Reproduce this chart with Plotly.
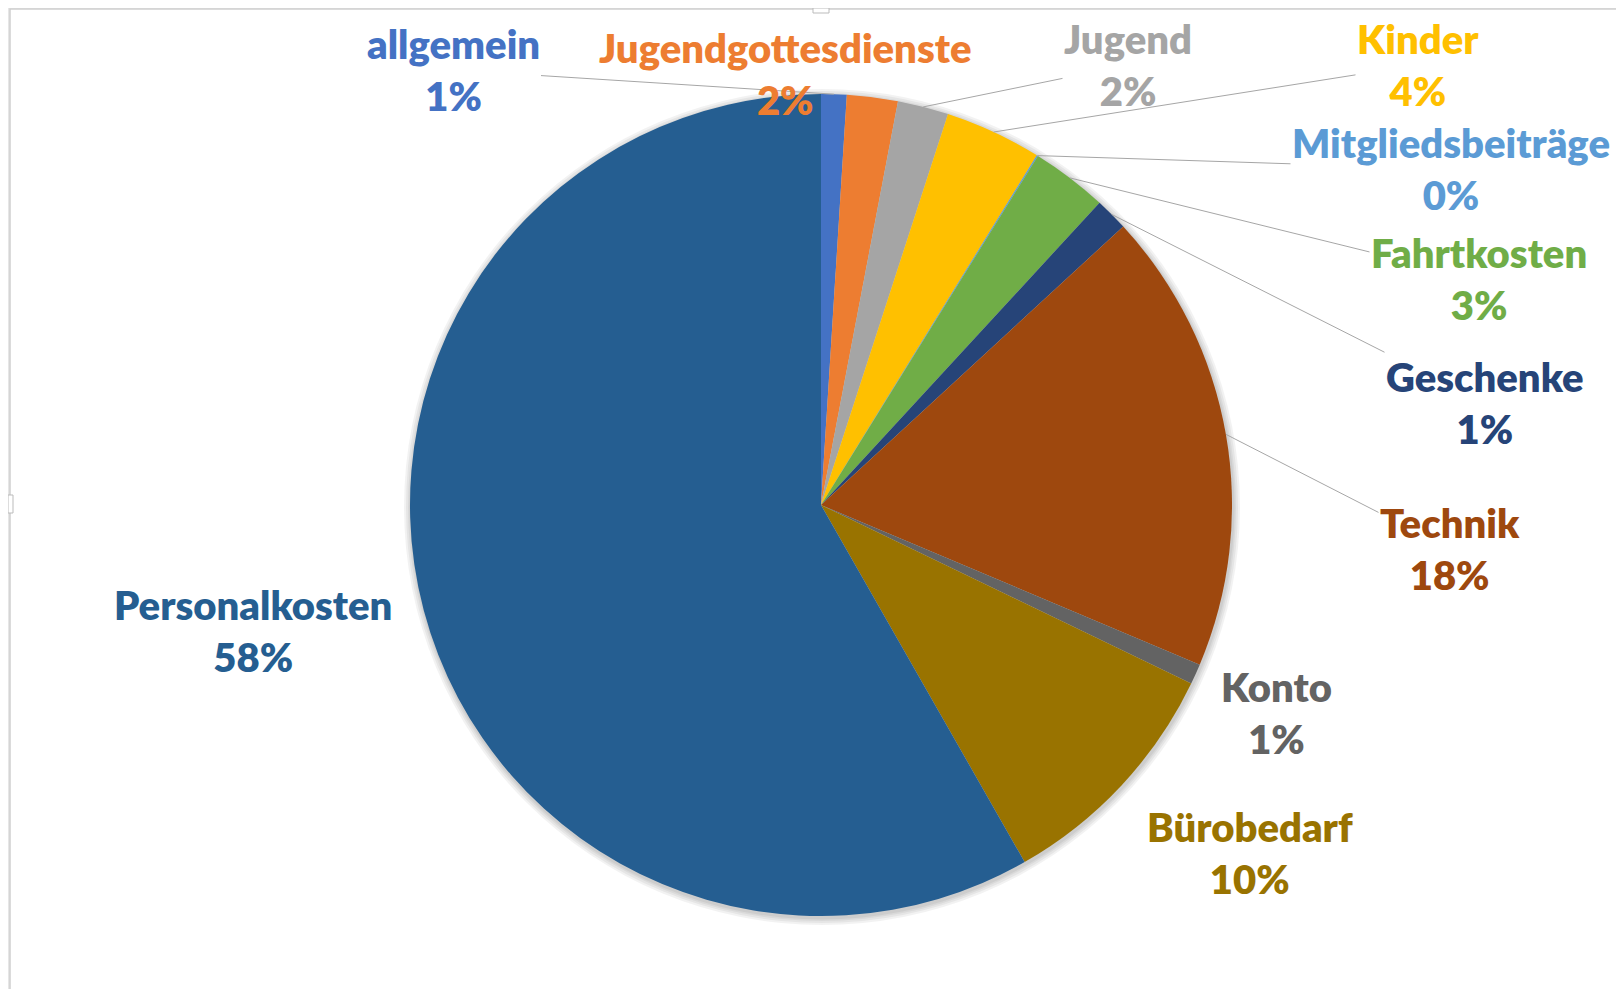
import numpy as np
import plotly.graph_objects as go

# Kategorien und Anteile in Prozent (Uhrzeigersinn ab 12 Uhr)
categories = ["allgemein", "Jugendgottesdienste", "Jugend", "Kinder", "Mitgliedsbeiträge",
              "Fahrtkosten", "Geschenke", "Technik", "Konto", "Bürobedarf", "Personalkosten"]
values = [1.0, 2.0, 2.0, 3.8, 0.05, 3.0, 1.3, 18.2, 0.8, 9.6, 58.25]
colors = ["#4472C4", "#ED7D31", "#A5A5A5", "#FFC000", "#5B9BD5", "#70AD47",
          "#264478", "#9E480E", "#636363", "#997300", "#255E91"]

W, H = 1624, 989
# the page body adds an 8px offset, so everything is placed 8px up/left
CX, CY, R = 813, 497, 411  # pie centre and radius, px

# label centre in px, and whether Excel drew a leader line
label_style = {
    "allgemein": (445, 62, True),
    "Jugendgottesdienste": (777, 66, False),
    "Jugend": (1120, 57, True),
    "Kinder": (1410, 57, True),
    "Mitgliedsbeiträge": (1443, 161, True),
    "Fahrtkosten": (1471, 271, True),
    "Geschenke": (1477, 395, True),
    "Technik": (1442, 541, True),
    "Konto": (1268, 705, False),
    "Bürobedarf": (1242, 845, False),
    "Personalkosten": (245, 623, False),
}

fig = go.Figure(go.Pie(
    labels=categories,
    values=values,
    sort=False,
    direction="clockwise",
    rotation=0,
    marker=dict(colors=colors, line=dict(width=0)),
    textinfo="none",
    textposition="none",
    hoverinfo="label+percent",
    showlegend=False,
    domain=dict(x=[(CX - R) / W, (CX + R) / W], y=[1 - (CY + R) / H, 1 - (CY - R) / H]),
))

# data labels + leader lines
total = sum(values)
cum = np.cumsum([0] + values[:-1])
annotations = []
for name, v, c0, col in zip(categories, values, cum, colors):
    lx, ly, leader = label_style[name]
    pct = round(v / total * 100)
    text = f"{name}<br>{pct}%"
    font = dict(family="Lato, Noto Sans, sans-serif", size=40, color=col, weight=800)
    if leader:
        theta = 2 * np.pi * (c0 + v / 2) / total
        ex = CX + R * np.sin(theta)
        ey = CY - R * np.cos(theta)
        annotations.append(dict(
            x=ex / W, y=1 - ey / H, xref="paper", yref="paper",
            ax=lx - ex, ay=ly - ey, axref="pixel", ayref="pixel",
            text=text, font=font, showarrow=True, arrowhead=0,
            arrowwidth=1, arrowcolor="#A6A6A6", standoff=0, startstandoff=0,
        ))
    else:
        annotations.append(dict(
            x=lx / W, y=1 - ly / H, xref="paper", yref="paper",
            xanchor="center", yanchor="middle",
            text=text, font=font, showarrow=False,
        ))

# chart frame (Excel selection look) and soft pie shadow
shapes = [
    dict(type="rect", xref="paper", yref="paper", x0=2 / W, x1=1.01, y0=-0.01, y1=1 - 1 / H,
         fillcolor="white", line=dict(color="#CFCFCF", width=1.5), layer="below"),
    dict(type="rect", xref="paper", yref="paper", x0=805 / W, x1=821 / W, y0=1 - 5 / H, y1=1,
         fillcolor="white", line=dict(color="#BBBBBB", width=1), layer="below"),
    dict(type="rect", xref="paper", yref="paper", x0=0, x1=5 / W, y0=1 - 505 / H, y1=1 - 487 / H,
         fillcolor="white", line=dict(color="#BBBBBB", width=1), layer="below"),
]
for k in [7, 5, 3, 1.5]:
    shapes.append(dict(
        type="circle", xref="paper", yref="paper",
        x0=(CX - R - k + 1) / W, x1=(CX + R + k + 1) / W,
        y0=1 - (CY + R + k + 2) / H, y1=1 - (CY - R - k + 2) / H,
        fillcolor="rgba(0,0,0,0.05)", line=dict(width=0), layer="below",
    ))

fig.update_layout(
    width=W, height=H,
    margin=dict(l=0, r=0, t=0, b=0),
    paper_bgcolor="#E6E6E6",
    annotations=annotations,
    shapes=shapes,
)

fig.write_html("out.html")
